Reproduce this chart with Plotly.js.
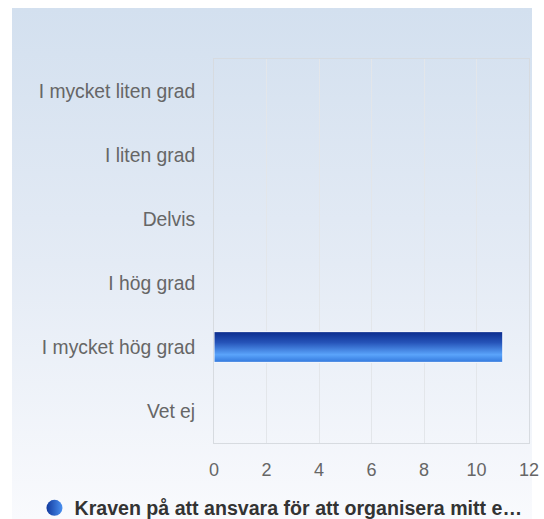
<!DOCTYPE html>
<html>
<head>
<meta charset="utf-8">
<script src="https://cdn.plot.ly/plotly-3.0.1.min.js"></script>
<style>
  html, body { margin:0; padding:0; background:#ffffff; }
  #bg { position:absolute; left:12px; top:8px; width:520px; height:511px;
        background: linear-gradient(to bottom, #d3e0ef 0%, #e4ebf5 50%, #f9fafd 100%); }
  #chart { position:absolute; left:0; top:0; width:544px; height:519px; }
</style>
</head>
<body>
<div id="bg"></div>
<div id="chart"></div>
<script>
const categories = ["I mycket liten grad", "I liten grad", "Delvis", "I hög grad", "I mycket hög grad", "Vet ej"];
const values = [0, 0, 0, 0, 11, 0];
const seriesName = "Kraven på att ansvara för att organisera mitt e…";
const xTicks = [0, 2, 4, 6, 8, 10, 12];

const idx = categories.map((c, i) => i);
const halfW = 0.24;
const font = '"Liberation Sans", Arial, sans-serif';

const traces = [];
traces.push({
  type: 'bar', orientation: 'h', x: values, y: idx, width: halfW * 2,
  marker: { color: '#2f68d0', line: { width: 0 } },
  showlegend: false, hoverinfo: 'x'
});
// gradient overlay for each bar, from same data
values.forEach((v, i) => {
  if (v <= 0) return;
  traces.push({
    type: 'scatter', mode: 'lines', fill: 'toself',
    x: [0, v, v, 0, 0],
    y: [i - halfW, i - halfW, i + halfW, i + halfW, i - halfW],
    line: { color: '#ffffff', width: 1 },
    fillgradient: { type: 'vertical', colorscale: [[0, '#3277dc'], [0.25, '#5aa4fb'], [0.65, '#2553b8'], [1, '#0b2b8c']] },
    showlegend: false, hoverinfo: 'skip'
  });
});
// legend entry
traces.push({
  type: 'scatter', mode: 'markers', x: [null], y: [null], name: seriesName,
  marker: { size: 16, color: '#123a9e', gradient: { type: 'horizontal', color: '#4a90f0' } },
  showlegend: true
});

const layout = {
  width: 544, height: 519,
  margin: { l: 214, r: 15, t: 59, b: 76 },
  paper_bgcolor: 'rgba(0,0,0,0)', plot_bgcolor: 'rgba(0,0,0,0)',
  font: { family: font, size: 18, color: '#666666' },
  showlegend: true,
  legend: { orientation: 'h', x: 0.5165, xanchor: 'center', xref: 'container',
            y: 0.021, yanchor: 'middle', yref: 'container',
            font: { family: font, size: 19.6, color: '#333333', weight: 'bold' },
            itemwidth: 30 },
  xaxis: { range: [0, 12], tickvals: xTicks, showgrid: true, gridcolor: '#e3e6ea', gridwidth: 1,
           zeroline: false, showline: true, linecolor: '#d7dbe0', mirror: true,
           tickfont: { size: 18 },
           ticks: 'outside', ticklen: 10, tickcolor: 'rgba(0,0,0,0)', fixedrange: true },
  yaxis: { range: [5.5, -0.5], tickvals: idx, ticktext: categories, showgrid: false,
           zeroline: false, showline: true, linecolor: '#d7dbe0', mirror: true,
           tickfont: { size: 19.3 },
           ticks: 'outside', ticklen: 14, tickcolor: 'rgba(0,0,0,0)', fixedrange: true }
};

Plotly.newPlot('chart', traces, layout, { displayModeBar: false, staticPlot: true });
</script>
</body>
</html>
